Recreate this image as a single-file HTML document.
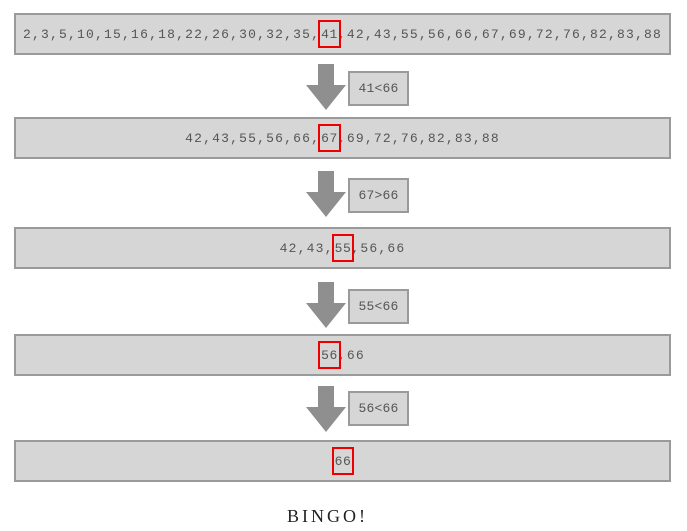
<!DOCTYPE html>
<html><head><meta charset="utf-8"><style>
body{margin:0;width:687px;height:531px;background:#fff;position:relative;overflow:hidden;font-family:"Liberation Mono",monospace;}
.row{position:absolute;left:14px;width:653px;height:38px;background:#d6d6d6;border:2px solid #9a9a9a;display:flex;align-items:center;justify-content:center;font-size:13px;letter-spacing:1.2px;color:#555;}
.hl{position:relative;letter-spacing:0.6px;margin-left:1px;}
.hl::after{content:'';position:absolute;left:-3px;right:-3px;top:-7px;bottom:-6px;border:2px solid #e00;}
.arrow{position:absolute;left:305px;width:42px;height:46px;}
.lbl{position:absolute;left:348px;width:57px;height:31px;background:#d6d6d6;border:2px solid #9a9a9a;display:flex;align-items:center;justify-content:center;font-size:13px;color:#555;letter-spacing:0.2px;}
.bingo{position:absolute;left:0;width:655px;top:506px;text-align:center;font-family:"Liberation Serif",serif;font-size:18px;letter-spacing:3px;color:#222;}
</style></head><body>
<div class="row" style="top:13px"><span>2,3,5,10,15,16,18,22,26,30,32,35,</span><span class="hl">41</span><span>,42,43,55,56,66,67,69,72,76,82,83,88</span></div>
<svg class="arrow" style="top:64px" viewBox="0 0 42 46"><polygon points="13,0 29,0 29,21 41,21 21,46 1,21 13,21" fill="#8f8f8f"/></svg>
<div class="lbl" style="top:71px">41&lt;66</div>
<div class="row" style="top:117px"><span>42,43,55,56,66,</span><span class="hl">67</span><span>,69,72,76,82,83,88</span></div>
<svg class="arrow" style="top:171px" viewBox="0 0 42 46"><polygon points="13,0 29,0 29,21 41,21 21,46 1,21 13,21" fill="#8f8f8f"/></svg>
<div class="lbl" style="top:178px">67&gt;66</div>
<div class="row" style="top:227px"><span>42,43,</span><span class="hl">55</span><span>,56,66</span></div>
<svg class="arrow" style="top:282px" viewBox="0 0 42 46"><polygon points="13,0 29,0 29,21 41,21 21,46 1,21 13,21" fill="#8f8f8f"/></svg>
<div class="lbl" style="top:289px">55&lt;66</div>
<div class="row" style="top:334px"><span class="hl">56</span><span>,66</span></div>
<svg class="arrow" style="top:386px" viewBox="0 0 42 46"><polygon points="13,0 29,0 29,21 41,21 21,46 1,21 13,21" fill="#8f8f8f"/></svg>
<div class="lbl" style="top:391px">56&lt;66</div>
<div class="row" style="top:440px"><span class="hl">66</span></div>
<div class="bingo">BINGO!</div>
</body></html>
